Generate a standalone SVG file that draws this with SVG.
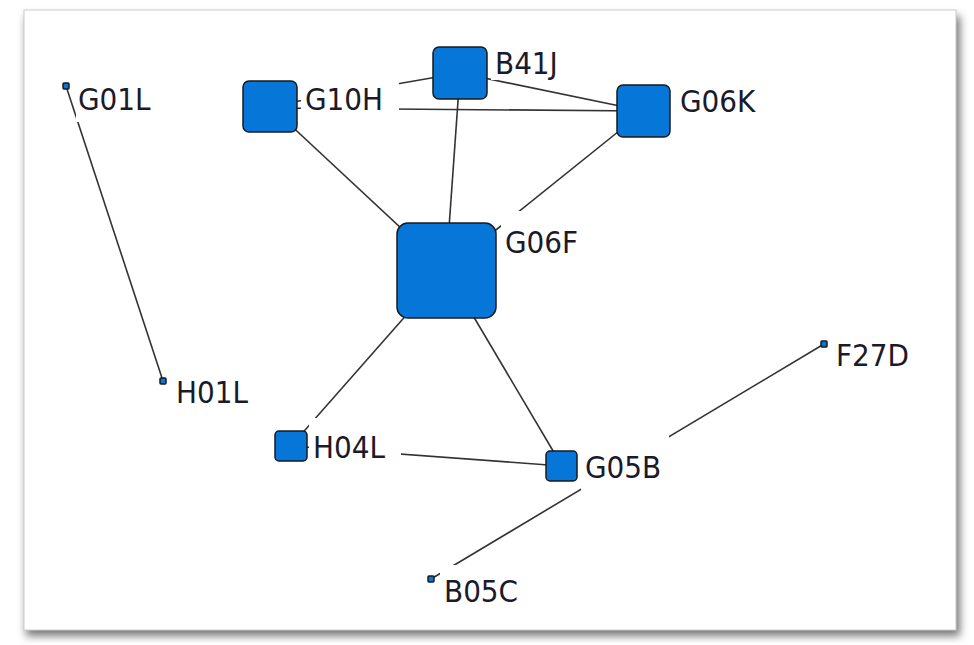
<svg xmlns="http://www.w3.org/2000/svg" width="974" height="645" viewBox="0 0 974 645">
<defs>
<filter id="sh" x="-5%" y="-5%" width="110%" height="110%"><feGaussianBlur stdDeviation="4"/></filter>
<style>
.n{fill:#0776d9;stroke:#1a1a1a;stroke-width:1.5}
.e line{stroke:#333;stroke-width:1.6}
.t{font-family:"DejaVu Sans Condensed","DejaVu Sans",sans-serif;font-stretch:condensed;font-size:31px;fill:#1a1a2a}
.bg{fill:#fff}
</style>
</defs>
<rect width="974" height="645" fill="#fff"/>
<rect x="26" y="16" width="934" height="620" fill="#777" filter="url(#sh)"/>
<rect x="24" y="10" width="932" height="620" fill="#fff" stroke="#ccc"/>
<g class="e" id="connectors">
<line x1="66" y1="86" x2="163" y2="381"/>
<line x1="270" y1="106" x2="446" y2="270"/>
<line x1="270" y1="106" x2="460" y2="73"/>
<line x1="270" y1="108" x2="644" y2="111"/>
<line x1="460" y1="73" x2="644" y2="111"/>
<line x1="460" y1="73" x2="446" y2="270"/>
<line x1="644" y1="111" x2="446" y2="270"/>
<line x1="446" y1="270" x2="291" y2="446"/>
<line x1="446" y1="270" x2="562" y2="466"/>
<line x1="291" y1="446" x2="562" y2="466"/>
<line x1="431" y1="579" x2="824" y2="344"/>
</g>
<g id="G01L"><rect class="n" x="63" y="83" width="6" height="6" rx="1"/><rect class="bg" x="76" y="80" width="94" height="42"/><text class="t" x="78" y="110">G01L</text></g>
<g id="H01L"><rect class="n" x="160" y="378" width="6" height="6" rx="1"/><rect class="bg" x="172" y="362" width="96" height="53"/><text class="t" x="176" y="403">H01L</text></g>
<g id="F27D"><rect class="n" x="821" y="341" width="6" height="6" rx="1"/><rect class="bg" x="832" y="326" width="98" height="52"/><text class="t" x="836" y="366">F27D</text></g>
<g id="B05C"><rect class="n" x="428" y="576" width="6" height="6" rx="1"/><rect class="bg" x="440" y="565" width="96" height="47"/><text class="t" x="444" y="602">B05C</text></g>
<g id="G10H"><rect class="n" x="243" y="81" width="54" height="51" rx="6"/><rect class="bg" x="301" y="72" width="98" height="46"/><text class="t" x="305" y="110">G10H</text></g>
<g id="B41J"><rect class="n" x="433" y="47" width="54" height="52" rx="6"/><rect class="bg" x="491" y="34" width="96" height="46"/><text class="t" x="495" y="74">B41J</text></g>
<g id="G06K"><rect class="n" x="617" y="85" width="53" height="52" rx="6"/><rect class="bg" x="676" y="72" width="98" height="50"/><text class="t" x="680" y="112">G06K</text></g>
<g id="G06F"><rect class="n" x="397" y="223" width="99" height="95" rx="11"/><rect class="bg" x="501" y="211" width="86" height="54"/><text class="t" x="505" y="253">G06F</text></g>
<g id="H04L"><rect class="n" x="275" y="431" width="32" height="30" rx="4"/><rect class="bg" x="309" y="418" width="92" height="50"/><text class="t" x="313" y="458">H04L</text></g>
<g id="G05B"><rect class="n" x="546" y="451" width="31" height="30" rx="4"/><rect class="bg" x="581" y="436" width="88" height="55"/><text class="t" x="585" y="478">G05B</text></g>
</svg>
